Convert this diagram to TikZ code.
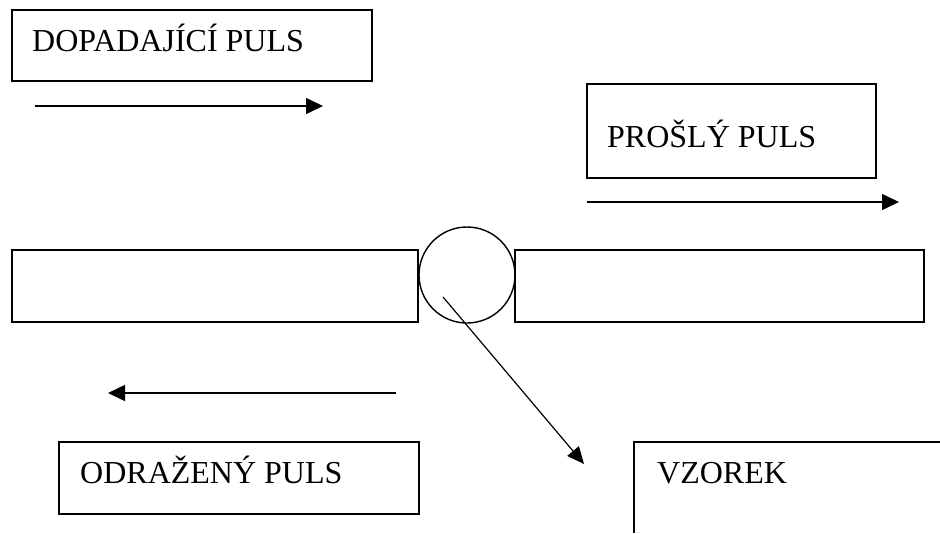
\documentclass[tikz,border=0pt]{standalone}
\usepackage{fontspec}
\setmainfont{Liberation Serif}
\usetikzlibrary{arrows.meta}
\begin{document}
\begin{tikzpicture}[x=1pt,y=-1pt,
  box/.style={draw,line width=1.6pt,rectangle,inner sep=0pt},
  lbl/.style={anchor=base west,inner sep=0pt,font=\fontsize{32}{38}\selectfont},
  pulse/.style={line width=1.5pt,-{Triangle[length=17pt,width=16pt]}},
  probe/.style={line width=1.2pt,-{Triangle[length=17pt,width=15pt]}}]
\useasboundingbox (0,0) rectangle (940,533);
% labelled boxes
\node[box,minimum width=360pt,minimum height=71pt] (inbox) at (192,45.5) {};
\node[lbl] (intext) at (32,51) {DOPADAJÍCÍ PULS};
\node[box,minimum width=289pt,minimum height=94pt] (outbox) at (731.5,131) {};
\node[lbl] (outtext) at (607,147) {PROŠLÝ PULS};
\node[box,minimum width=360pt,minimum height=72pt] (refbox) at (239,478) {};
\node[lbl] (reftext) at (80,483) {ODRAŽENÝ PULS};
% sample box, open to the right and bottom
\coordinate (sbl) at (634,533);
\coordinate (stl) at (634,442);
\coordinate (str) at (940,442);
\draw[line width=1.6pt] (sbl) -- (stl) -- (str);
\node[lbl] (stext) at (657,483) {VZOREK};
% bars and sample between them
\node[box,minimum width=406pt,minimum height=72pt] (lbar) at (215,286) {};
\node[box,minimum width=409pt,minimum height=72pt] (rbar) at (719.5,286) {};
\node[draw,circle,line width=1.4pt,minimum size=96pt,inner sep=0pt] (smp) at (467,275) {};
% pulse directions
\coordinate (a1s) at (35,106);  \coordinate (a1e) at (323,106);
\coordinate (a2s) at (587,202); \coordinate (a2e) at (899,202);
\coordinate (a3s) at (396,393); \coordinate (a3e) at (108,393);
\draw[pulse] (a1s) -- (a1e);
\draw[pulse] (a2s) -- (a2e);
\draw[pulse] (a3s) -- (a3e);
% pointer from the sample to its label
\coordinate (ps) at (443,297);
\coordinate (pe) at (584,464);
\draw[probe] (ps) -- (pe);
\end{tikzpicture}
\end{document}
